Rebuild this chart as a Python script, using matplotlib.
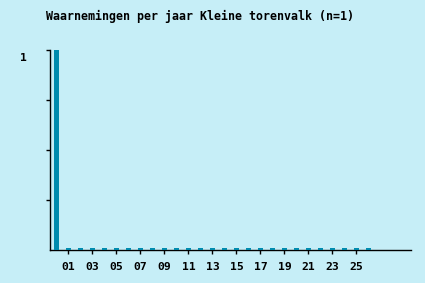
import matplotlib
matplotlib.use("Agg")
import matplotlib.pyplot as plt
from matplotlib.transforms import ScaledTranslation

years = ["00", "01", "02", "03", "04", "05", "06", "07", "08", "09", "10", "11", "12",
         "13", "14", "15", "16", "17", "18", "19", "20", "21", "22", "23", "24", "25", "26"]
counts = [1] + [0] * 26
title = "Waarnemingen per jaar Kleine torenvalk (n=1)"
ytick_vals = [0.25, 0.5, 0.75, 1.0]
ytick_labels = ["", "", "", "1"]

bg = "#c6eef7"
bar_color = "#008bae"
zero_h = 0.008

W, H = 425, 283
fig = plt.figure(figsize=(W / 100, H / 100), dpi=100, facecolor=bg)
ax = fig.add_axes([50 / W, 1 - 250 / H, (411 - 50) / W, 200 / H], facecolor=bg)

xs = list(range(len(years)))
heights = [c if c > 0 else zero_h for c in counts]
ax.bar(xs, heights, width=5 / 12, color=bar_color, linewidth=0, zorder=2)

ax.set_xlim(-0.54, 29.55)
ax.set_ylim(0, 1)

ax.set_xticks(xs[1::2])
ax.set_xticklabels(years[1::2])
ax.set_yticks(ytick_vals)
ax.set_yticklabels(ytick_labels)

for s in ["top", "right"]:
    ax.spines[s].set_visible(False)
for s in ["left", "bottom"]:
    ax.spines[s].set_color("black")
    ax.spines[s].set_linewidth(1.0)
    ax.spines[s].set_zorder(1)

ax.tick_params(axis="x", direction="out", length=3, width=1, pad=6, colors="black")
ax.tick_params(axis="y", direction="out", length=3, width=1, pad=14, colors="black")
for lbl in ax.get_xticklabels() + ax.get_yticklabels():
    lbl.set_fontfamily("DejaVu Sans Mono")
    lbl.set_fontweight("bold")
    lbl.set_fontsize(8.2)
shift = ScaledTranslation(0, -3 / 100, fig.dpi_scale_trans)
for lbl in ax.get_yticklabels():
    lbl.set_va("top")
    lbl.set_transform(lbl.get_transform() + shift)

fig.text(200 / W, 1 - 16 / H, title, ha="center", va="center",
         family="DejaVu Sans Mono", weight="bold", fontsize=8.4, color="black")

fig.savefig("out.png", dpi=100, facecolor=bg)
